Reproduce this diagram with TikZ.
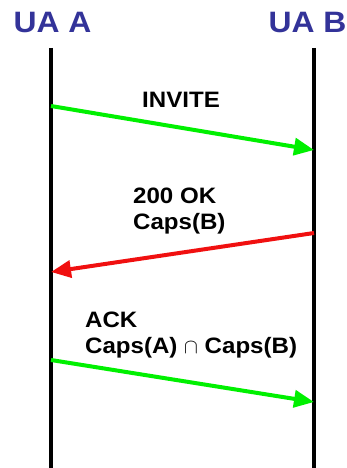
\documentclass[tikz,border=0pt]{standalone}
\usepackage{amsmath}
\usepackage{amssymb}
\usepackage{fontspec}
\setmainfont{Liberation Sans}[FakeStretch=1.08]
\usetikzlibrary{arrows.meta, positioning}
\definecolor{uablue}{HTML}{333399}
\definecolor{msggreen}{HTML}{00F000}
\definecolor{msgred}{HTML}{F01010}

\begin{document}
\begin{tikzpicture}[
x=1pt, y=-1pt,
title/.style={font=\fontsize{29.5}{34}\selectfont\bfseries, text=uablue, inner sep=0pt},
lifeline/.style={line width=4pt, black},
msg/.style={line width=4pt, -{Triangle[length=20pt, width=17pt]}},
lbl/.style={font=\fontsize{22.3}{26}\selectfont\bfseries, align=left, inner sep=0pt, anchor=north west}
]
\useasboundingbox (0,0) rectangle (346,468);

% agents
\node[title] (uaA) at (52.5,22) {UA A};
\node[title] (uaB) at (307.5,22) {UA B};

\coordinate (aTop) at (51,48);
\coordinate (aBot) at (51,468);
\coordinate (bTop) at (314,48);
\coordinate (bBot) at (314,468);
\draw[lifeline] (aTop) -- (aBot);
\draw[lifeline] (bTop) -- (bBot);

% messages
\coordinate (inviteS) at (51,106);
\coordinate (inviteE) at (314,150);
\coordinate (okS) at (314,233);
\coordinate (okE) at (51,272);
\coordinate (ackS) at (51,360);
\coordinate (ackE) at (314,402);

\draw[msg, msggreen] (inviteS) -- (inviteE);
\draw[msg, msgred] (okS) -- (okE);
\draw[msg, msggreen] (ackS) -- (ackE);

\node[lbl] (invite) at (142,92) {INVITE};
\node[lbl] (ok) at (133,188) {200 OK\\Caps(B)};
\node[lbl] (ack) at (85,312) {ACK\\Caps(A) $\cap$ Caps(B)};

\end{tikzpicture}
\end{document}
